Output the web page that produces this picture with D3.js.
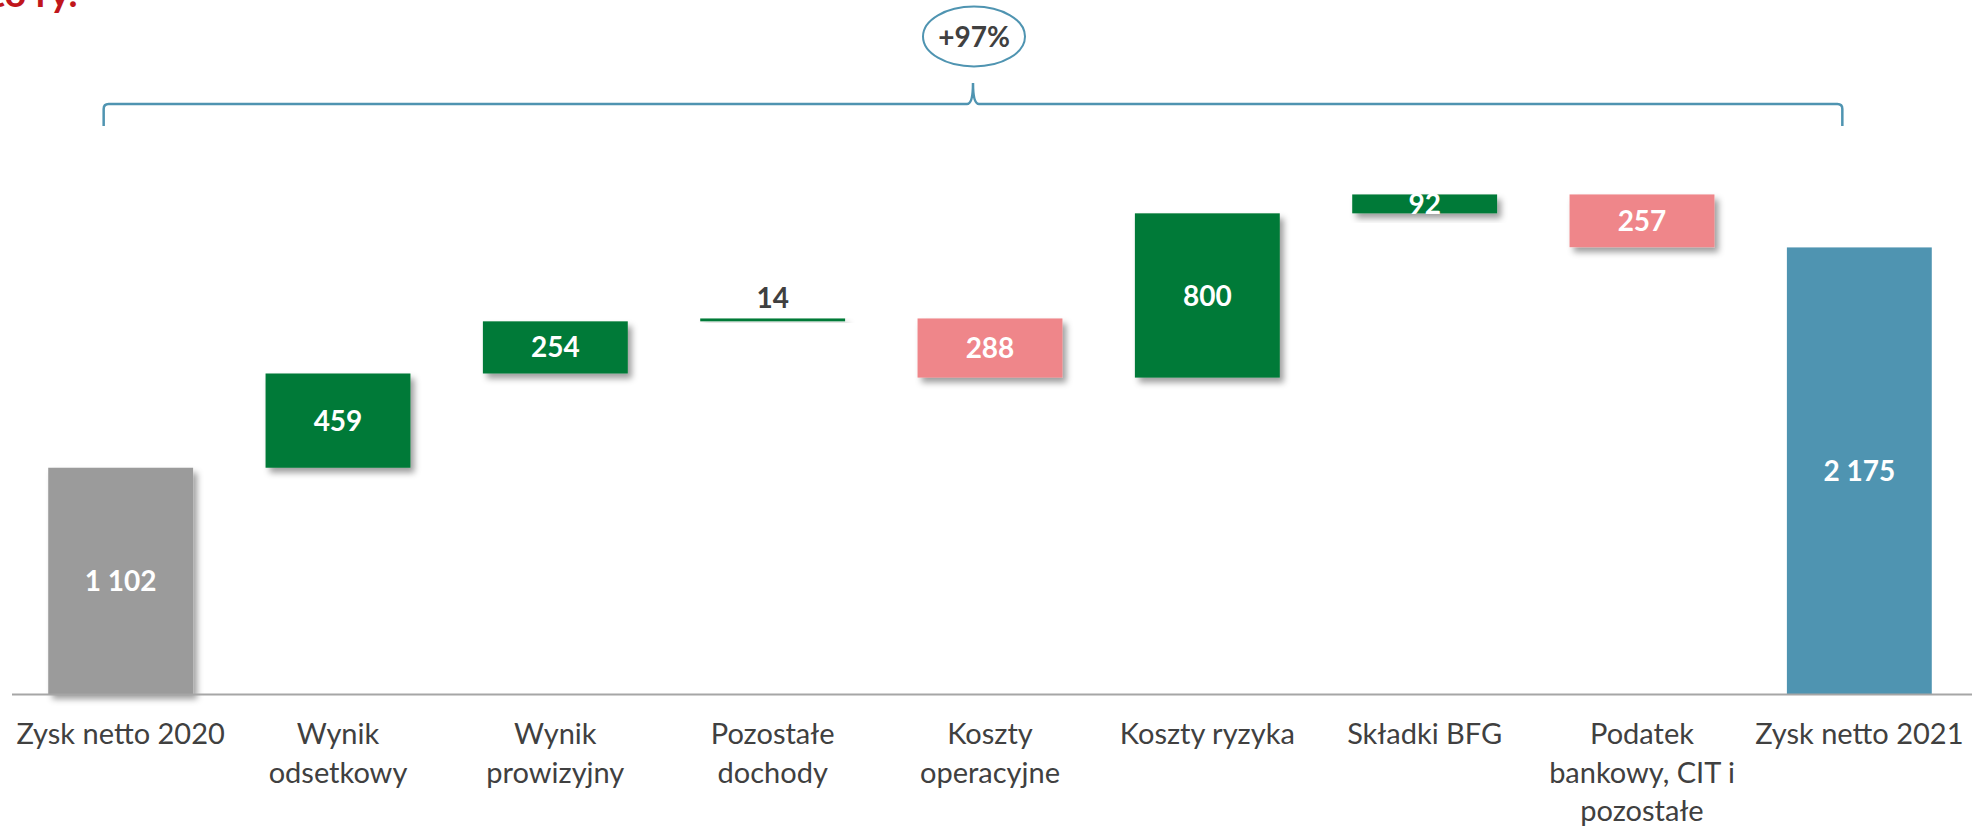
<!DOCTYPE html>
<html>
<head>
<meta charset="utf-8">
<script src="https://cdn.jsdelivr.net/npm/d3@7"></script>
<style>
  html, body { margin: 0; padding: 0; background: #fff; }
  svg { display: block; }
</style>
</head>
<body>
<div id="chart"></div>
<script>
var svgWidth = 1972;
var svgHeight = 830;

// data
var categories = ["Zysk netto 2020", "Wynik odsetkowy", "Wynik prowizyjny", "Pozostałe dochody",
    "Koszty operacyjne", "Koszty ryzyka", "Składki BFG", "Podatek bankowy, CIT i pozostałe", "Zysk netto 2021"];
var labelLines = [["Zysk netto 2020"], ["Wynik", "odsetkowy"], ["Wynik", "prowizyjny"], ["Pozostałe", "dochody"],
    ["Koszty", "operacyjne"], ["Koszty ryzyka"], ["Składki BFG"], ["Podatek", "bankowy, CIT i", "pozostałe"], ["Zysk netto 2021"]];
var values = [1102, 459, 254, 14, -288, 800, 92, -257, 2175];
var kinds = ["start", "up", "up", "up", "down", "up", "up", "down", "end"];
var changeText = "+97%";

var colors = { start: "#9b9b9b", up: "#007a37", down: "#ef868a", end: "#4f94b1" };

var svg = d3.select("#chart")
    .append("svg")
    .attr("width", svgWidth)
    .attr("height", svgHeight);

// drop shadow like in the slide
var defs = svg.append("defs");
var f = defs.append("filter").attr("id", "shadow")
    .attr("x", "-10%").attr("y", "-10%").attr("width", "130%").attr("height", "160%");
f.append("feDropShadow")
    .attr("dx", 4).attr("dy", 5).attr("stdDeviation", 3)
    .attr("flood-color", "#000").attr("flood-opacity", 0.38);

// running totals for the waterfall
var rows = [];
var run = 0;
values.forEach(function (v, i) {
    var d = { cat: categories[i], value: v, kind: kinds[i], lines: labelLines[i] };
    if (d.kind === "start" || d.kind === "end") {
        d.y0 = 0; d.y1 = v; run = v;
    } else {
        d.y0 = run; d.y1 = run + v; run = d.y1;
    }
    rows.push(d);
});

var x = d3.scaleBand()
    .domain(categories)
    .range([12, 1968])
    .paddingInner(1 / 3)
    .paddingOuter(1 / 6);

var y = d3.scaleLinear()
    .domain([0, 3380])
    .range([694, 0]);

var fmt = d3.formatLocale({ decimal: ",", thousands: " ", grouping: [3], currency: ["", ""] }).format(",d");

// title remnant cut at the top of the slide
svg.append("text")
    .attr("x", -22)
    .attr("y", 7)
    .attr("font-family", "Lato, sans-serif")
    .attr("font-weight", "bold")
    .attr("font-size", 38)
    .attr("fill", "#c0161c")
    .text("tto ry.");

// bars
svg.selectAll("rect.bar")
    .data(rows)
    .enter()
    .append("rect")
    .attr("class", "bar")
    .attr("x", d => x(d.cat))
    .attr("width", x.bandwidth())
    .attr("y", d => y(Math.max(d.y0, d.y1)))
    .attr("height", d => Math.abs(y(d.y0) - y(d.y1)))
    .attr("fill", d => colors[d.kind])
    .attr("filter", d => d.kind === "end" ? null : "url(#shadow)");

// x axis line
svg.append("line")
    .attr("x1", 12).attr("x2", 1972)
    .attr("y1", y(0) + 0.5).attr("y2", y(0) + 0.5)
    .attr("stroke", "#a6a6a6")
    .attr("stroke-width", 2);

// value labels
svg.selectAll("text.val")
    .data(rows)
    .enter()
    .append("text")
    .attr("class", "val")
    .attr("x", d => x(d.cat) + x.bandwidth() / 2)
    .attr("y", function (d) {
        var h = Math.abs(y(d.y0) - y(d.y1));
        if (h < 10) return y(Math.max(d.y0, d.y1)) - 10;
        return (y(d.y0) + y(d.y1)) / 2;
    })
    .attr("dy", function (d) {
        var h = Math.abs(y(d.y0) - y(d.y1));
        return h < 10 ? 0 : "0.36em";
    })
    .attr("text-anchor", "middle")
    .attr("font-family", "Lato, sans-serif")
    .attr("font-weight", "bold")
    .attr("font-size", 28)
    .attr("fill", function (d) {
        var h = Math.abs(y(d.y0) - y(d.y1));
        return h < 10 ? "#404040" : "#fff";
    })
    .text(d => fmt(Math.abs(d.value)));

// category labels
var cl = svg.selectAll("text.cat")
    .data(rows)
    .enter()
    .append("text")
    .attr("class", "cat")
    .attr("text-anchor", "middle")
    .attr("font-family", "Lato, sans-serif")
    .attr("font-size", 29)
    .attr("fill", "#404040");

cl.selectAll("tspan")
    .data(d => d.lines.map(function (l, i) { return { t: l, i: i, cx: x(d.cat) + x.bandwidth() / 2 }; }))
    .enter()
    .append("tspan")
    .attr("x", d => d.cx)
    .attr("y", d => 744 + d.i * 38.5)
    .text(d => d.t);

// bracket over the whole chart
var bx0 = x(categories[0]) + x.bandwidth() / 2 - 17;
var bx1 = x(categories[categories.length - 1]) + x.bandwidth() / 2 - 17;
var bm = (bx0 + bx1) / 2;
var by = 104;
var bracket = d3.path();
bracket.moveTo(bx0, by + 22);
bracket.lineTo(bx0, by + 5);
bracket.quadraticCurveTo(bx0, by, bx0 + 5, by);
bracket.lineTo(bm - 6, by);
bracket.quadraticCurveTo(bm, by, bm, by - 21);
bracket.quadraticCurveTo(bm, by, bm + 6, by);
bracket.lineTo(bx1 - 5, by);
bracket.quadraticCurveTo(bx1, by, bx1, by + 5);
bracket.lineTo(bx1, by + 22);

svg.append("path")
    .attr("d", bracket.toString())
    .attr("fill", "none")
    .attr("stroke", "#4f94b1")
    .attr("stroke-width", 2.5);

svg.append("ellipse")
    .attr("cx", bm + 1)
    .attr("cy", 36.5)
    .attr("rx", 51)
    .attr("ry", 30)
    .attr("fill", "#fff")
    .attr("stroke", "#4f94b1")
    .attr("stroke-width", 2);

svg.append("text")
    .attr("x", bm + 1)
    .attr("y", 36.5)
    .attr("dy", "0.36em")
    .attr("text-anchor", "middle")
    .attr("font-family", "Lato, sans-serif")
    .attr("font-weight", "bold")
    .attr("font-size", 28)
    .attr("fill", "#404040")
    .text(changeText);
</script>
</body>
</html>
